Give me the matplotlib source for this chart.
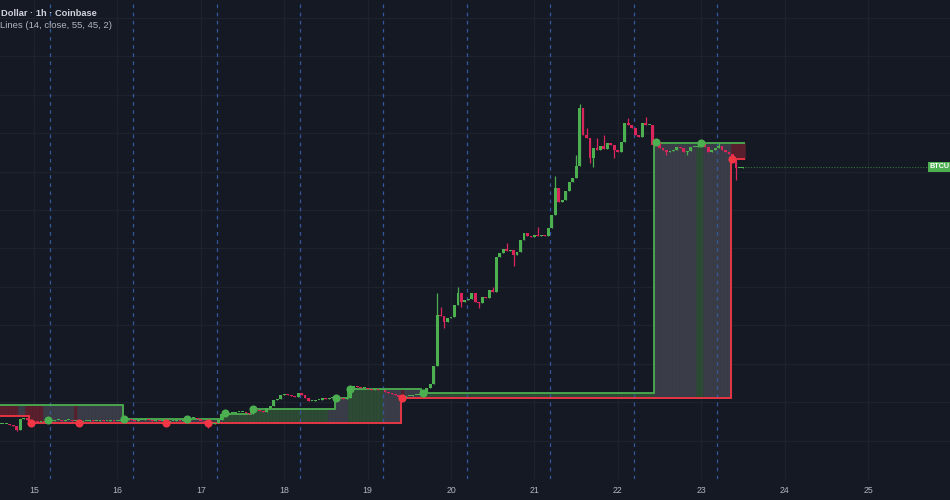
import matplotlib
matplotlib.use('Agg')
import matplotlib.pyplot as plt
import matplotlib.transforms as mtrans
import numpy as np

BG = '#151924'
GRID = '#1e222d'
UP = '#4caf50'
DOWN = '#d9255a'
LINE_RED = '#f23645'
FILL = {'bull': '#2c4a34', 'bear': '#5a1f2c', 'neutral': '#3a3d47'}

# hourly candles, first one at day 14, 14:00
first_candle = 14 + 14 / 24
closes = [
    26436, 26436, 26436, 26410, 26384, 26280, 26566, 26592, 26540, 26488,
    # day 15
    26514, 26488, 26514, 26488, 26514, 26514, 26540, 26540, 26514, 26540, 26540, 26514,
    26514, 26488, 26514, 26514, 26540, 26514, 26514, 26540, 26514, 26514, 26540, 26514,
    # day 16
    26514, 26540, 26540, 26566, 26540, 26514, 26540, 26540, 26566, 26540, 26514, 26540,
    26514, 26514, 26488, 26514, 26514, 26540, 26514, 26540, 26566, 26592, 26592, 26566,
    # day 17
    26514, 26462, 26436, 26436, 26462, 26540, 26696, 26696, 26722, 26722, 26748, 26748,
    26748, 26722, 26696, 26826, 26800, 26774, 26748, 26852, 26904, 27060, 27086, 27190,
    # day 18
    27216, 27190, 27164, 27138, 27242, 27190, 27112, 27034, 27034, 27060, 27060, 27112,
    27086, 27112, 27112, 27138, 27112, 27086, 27112, 27372, 27424, 27398, 27372, 27372,
    # day 19
    27346, 27320, 27346, 27320, 27320, 27268, 27242, 27216, 27190, 27138, 27112, 27164,
    27164, 27190, 27190, 27216, 27268, 27372, 27476, 27944, 29270, 29244, 29088, 29192,
    # day 20
    29218, 29530, 29842, 29608, 29660, 29686, 29842, 29608, 29582, 29738, 29712, 29920,
    29868, 30778, 30882, 30986, 30934, 30960, 30830, 30908, 31220, 31402, 31324, 31298,
    # day 21
    31350, 31324, 31350, 31324, 31532, 31870, 32572, 32208, 32260, 32494, 32728, 32832,
    33144, 34652, 33950, 33872, 33352, 33612, 33560, 33664, 33586, 33742, 33690, 33560,
    # day 22
    33508, 33768, 34262, 34210, 34132, 33950, 33898, 34262, 34210, 34210, 33690, 33768,
    33612, 33560, 33508, 33534, 33560, 33638, 33612, 33508, 33534, 33638, 33638, 33664,
    # day 23
    33716, 33638, 33508, 33560, 33612, 33664, 33560, 33508, 33456, 33352, 33092, 33092,
    33118,
]
# wicks that stick out of the bodies
wick_highs = {126: 29842, 127: 29478, 132: 29998, 142: 29998, 146: 31142, 155: 31558,
              160: 32884, 166: 33430, 167: 34756, 169: 34132, 172: 33872, 174: 33950,
              181: 34392, 186: 34418, 201: 33794, 207: 33742}
wick_lows = {5: 26254, 60: 26332, 128: 28932, 133: 29478, 138: 29452, 148: 30544,
             170: 33222, 171: 33118, 177: 33352, 192: 33430, 198: 33430, 212: 32780}

# "Lines" indicator: step levels (candle index where each level starts)
upper_starts = [0, 36, 65, 73, 97, 101, 122, 189]
upper_levels = [26930, 26566, 26696, 26826, 27112, 27346, 27242, 33742]
lower_starts = [0, 9, 116, 211]
lower_levels = [26644, 26462, 27112, 33326]
zone_starts = [0, 6, 8, 13, 22, 23, 65, 95, 101, 111, 116, 117, 122, 189, 201, 203, 211]
zones = ['bear', 'neutral', 'bear', 'neutral', 'bear', 'neutral', 'bull', 'neutral', 'bull',
         'neutral', 'bear', 'neutral', 'bull', 'neutral', 'bull', 'neutral', 'bear']
green_dot_idx = [14, 36, 54, 65, 73, 97, 101, 122, 189, 202]
green_dot_val = [26540, 26566, 26566, 26722, 26826, 27112, 27346, 27242, 33768, 33742]
red_dot_idx = [9, 23, 48, 60, 116, 211]
red_dot_val = [26462, 26462, 26462, 26462, 27112, 33326]

day_ticks = list(range(15, 26))
session_breaks = [15.19, 16.19, 17.19, 18.19, 19.19, 20.19, 21.19, 22.19, 23.19]
price_grid = list(range(26000, 38000, 1000))


def expand(starts, values, n):
    out = []
    bounds = starts[1:] + [n]
    for s, e, v in zip(starts, bounds, values):
        out += [v] * (e - s)
    return out


n = len(closes)
c = np.array(closes, dtype=float)
o = np.concatenate([[c[0]], c[:-1]])
h = np.maximum(o, c)
l = np.minimum(o, c)
for k, v in wick_highs.items():
    h[k] = max(h[k], v)
for k, v in wick_lows.items():
    l[k] = min(l[k], v)
t = first_candle + np.arange(n) / 24
edges = first_candle - 1 / 48 + np.arange(n + 1) / 24

upper = np.array(expand(upper_starts, upper_levels, n), dtype=float)
lower = np.array(expand(lower_starts, lower_levels, n), dtype=float)
zone = expand(zone_starts, zones, n)

fig = plt.figure(figsize=(9.5, 5), dpi=100, facecolor=BG)
ax = fig.add_axes([0, 21 / 500, 1, 479 / 500])
ax.set_facecolor(BG)
ax.set_xlim(14.5923, 25.983)
ax.set_ylim(25006, 37460)
for s in ax.spines.values():
    s.set_visible(False)

ax.set_yticks(price_grid)
ax.set_xticks(day_ticks)
ax.set_xticklabels([str(d) for d in day_ticks], fontfamily='Liberation Sans')
ax.tick_params(axis='y', length=0, labelleft=False)
ax.tick_params(axis='x', length=0, pad=5, labelsize=6.3, labelcolor='#b2b5be')
ax.grid(True, color=GRID, lw=0.9)
ax.set_axisbelow(True)

# indicator fill between the two lines
fc = [FILL[z] for z in zone]
ax.bar(t, np.abs(upper - lower), bottom=np.minimum(upper, lower), width=1 / 24,
       color=fc, edgecolor=fc, linewidth=0.4, zorder=1)

for x in session_breaks:
    ax.axvline(x, color='#3458a0', lw=0.9, ls=(0, (3, 3.5)), zorder=1.5)

ax.stairs(upper, edges, baseline=None, color=UP, lw=1.3, zorder=3)
ax.stairs(lower, edges, baseline=None, color=LINE_RED, lw=1.3, zorder=3)

# candles
col = np.where(c >= o, UP, DOWN)
body = np.maximum(np.abs(c - o), 30)
ax.vlines(t, l, h, colors=col, lw=0.9, zorder=3.9)
ax.bar(t, body, bottom=np.minimum(o, c), width=0.82 / 24, color=col, linewidth=0, zorder=4)

ax.scatter(t[green_dot_idx], green_dot_val, s=34, color=UP, zorder=5, linewidths=0)
ax.scatter(t[red_dot_idx], red_dot_val, s=34, color=LINE_RED, zorder=5, linewidths=0)

# last price line + label on the (cropped) price scale
ax.hlines(c[-1], edges[-1] + 0.01, 25.72, colors=UP, lw=0.8, ls=(0, (1, 1.5)), alpha=0.6, zorder=2)
tr = mtrans.blended_transform_factory(ax.transAxes, ax.transData)
ax.text(930 / 950, c[-1], 'BTCU', transform=tr, color='white', fontsize=5.2,
        fontweight='bold', fontfamily='Liberation Sans', va='center', ha='left', clip_on=False,
        bbox=dict(boxstyle='square,pad=0.25', fc=UP, ec='none'), zorder=6)

fig.text(0.001, 1 - 13 / 500, 'Dollar · 1h · Coinbase', color='#d1d4dc', fontsize=6.7,
         fontweight='bold', fontfamily='Liberation Sans', va='center', ha='left')
fig.text(0.0, 1 - 25 / 500, 'Lines (14, close, 55, 45, 2)', color='#b2b5be', fontsize=6.8,
         fontfamily='Liberation Sans', va='center', ha='left')

fig.savefig('out.png', dpi=100, facecolor=BG)
